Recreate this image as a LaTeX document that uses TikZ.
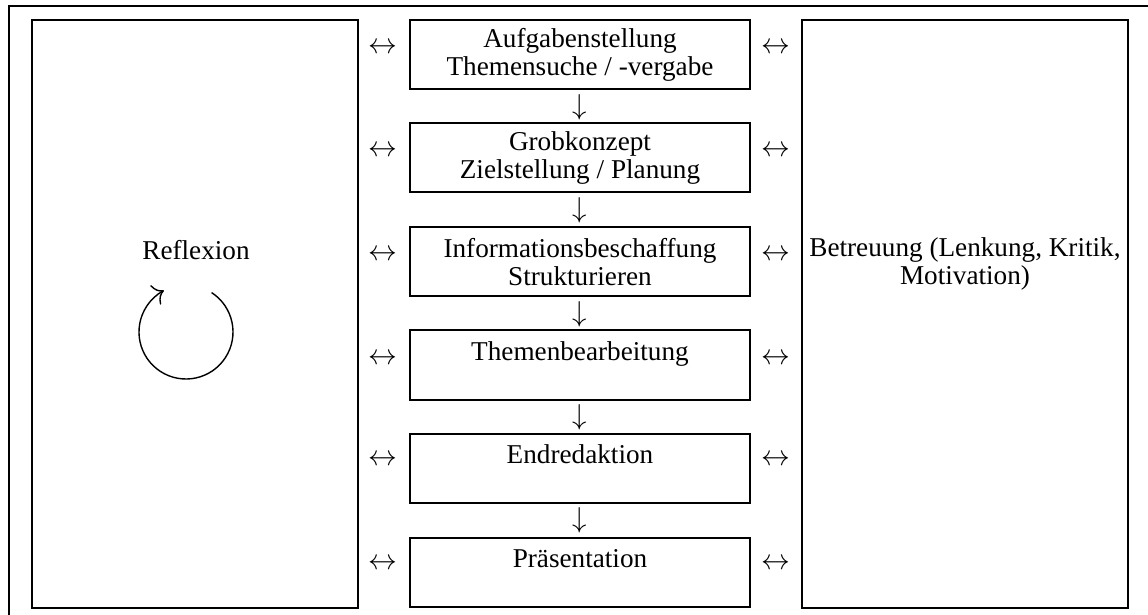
\documentclass[tikz,border=0pt]{standalone}
\usepackage{fontspec}
\setmainfont{Liberation Serif}
\usetikzlibrary{arrows.meta}
\begin{document}
\begin{tikzpicture}[x=0.5pt, y=-0.5pt, font=\fontsize{13.6}{14}\selectfont,
        schritt/.style={rectangle, draw, line width=1pt, minimum width=170pt, minimum height=34.5pt, align=center, inner sep=0pt},
        seite/.style={rectangle, draw, line width=1pt, minimum width=163pt, minimum height=293.5pt},
        zeichen/.style={inner sep=0pt, font=\fontsize{15.5}{15.5}\selectfont},
        kreispfeil/.style={-{To[length=5pt, width=11pt]}, line width=0.7pt} % offene Spitze
    ]
        \useasboundingbox (0,0) rectangle (1148,615);

        % Rahmen (rechts und unten abgeschnitten)
        \draw[line width=1pt] (1148,6) -- (9,6) -- (9,615);

        % Linke Spalte: Reflexion
        \node[seite] (reflexion) at (194.5,314) {};
        \node (reflexion_text) at (196,250) {Reflexion};
        \coordinate (kreismitte) at (186,332);
        \draw[kreispfeil] ([shift={(57:23.5pt)}]kreismitte) arc[start angle=57, end angle=-242, radius=23.5pt];

        % Rechte Spalte: Betreuung
        \node[seite] (betreuung) at (965,314) {};
        \node[align=center] (betreuung_text) at (965,264) {Betreuung (Lenkung, Kritik,\\Motivation)};

        % Mittlere Spalte: Arbeitsschritte
        \node[schritt] (aufgabe) at (580,55) {Aufgabenstellung\\Themensuche / -vergabe};
        \node[schritt] (grobkonzept) at (580,158) {Grobkonzept\\Zielstellung / Planung};
        \node[schritt] (information) at (580,262) {Informationsbeschaffung\\Strukturieren};
        \node[schritt] (bearbeitung) at (580,365) {Themenbearbeitung\\~};
        \node[schritt] (endredaktion) at (580,468) {Endredaktion\\~};
        \node[schritt] (praesentation) at (580,572) {Präsentation\\~};

        % Pfeile nach unten
        \node[zeichen] (pfeil_1) at (580,107) {$\downarrow$};
        \node[zeichen] (pfeil_2) at (580,210) {$\downarrow$};
        \node[zeichen] (pfeil_3) at (580,314) {$\downarrow$};
        \node[zeichen] (pfeil_4) at (580,417) {$\downarrow$};
        \node[zeichen] (pfeil_5) at (580,520) {$\downarrow$};

        % Wechselpfeile links
        \node[zeichen] (links_1) at (383,48) {$\leftrightarrow$};
        \node[zeichen] (links_2) at (383,151) {$\leftrightarrow$};
        \node[zeichen] (links_3) at (383,255) {$\leftrightarrow$};
        \node[zeichen] (links_4) at (383,359) {$\leftrightarrow$};
        \node[zeichen] (links_5) at (383,460) {$\leftrightarrow$};
        \node[zeichen] (links_6) at (383,564) {$\leftrightarrow$};

        % Wechselpfeile rechts
        \node[zeichen] (rechts_1) at (776,48) {$\leftrightarrow$};
        \node[zeichen] (rechts_2) at (776,151) {$\leftrightarrow$};
        \node[zeichen] (rechts_3) at (776,255) {$\leftrightarrow$};
        \node[zeichen] (rechts_4) at (776,359) {$\leftrightarrow$};
        \node[zeichen] (rechts_5) at (776,460) {$\leftrightarrow$};
        \node[zeichen] (rechts_6) at (776,564) {$\leftrightarrow$};
    \end{tikzpicture}
\end{document}
